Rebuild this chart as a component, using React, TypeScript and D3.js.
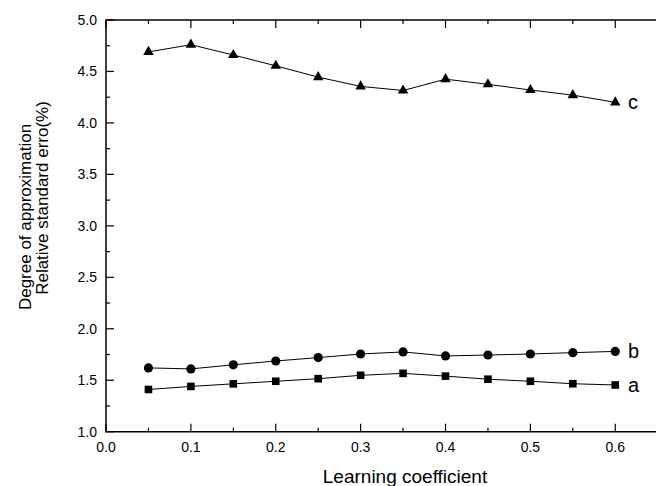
import React from "react";
import * as d3 from "d3";

const xValues = [0.05, 0.1, 0.15, 0.2, 0.25, 0.3, 0.35, 0.4, 0.45, 0.5, 0.55, 0.6];
const seriesA = [1.41, 1.44, 1.465, 1.49, 1.515, 1.548, 1.567, 1.54, 1.51, 1.49, 1.466, 1.454];
const seriesB = [1.62, 1.61, 1.65, 1.687, 1.72, 1.755, 1.775, 1.736, 1.745, 1.755, 1.768, 1.78];
const seriesC = [4.69, 4.76, 4.66, 4.555, 4.445, 4.355, 4.315, 4.425, 4.375, 4.32, 4.27, 4.2];
const xTicks = [0, 0.1, 0.2, 0.3, 0.4, 0.5, 0.6];
const yTicks = [1.0, 1.5, 2.0, 2.5, 3.0, 3.5, 4.0, 4.5, 5.0];

const W = 656;
const H = 486;
const FONT = "'Liberation Sans', Arial, sans-serif";

export default function App() {
  const x = d3.scaleLinear().domain([0, 0.65]).range([106, 657.7]);
  const y = d3.scaleLinear().domain([1, 5]).range([431.7, 20]);
  const line = d3
    .line<number>()
    .x((_, i) => x(xValues[i]))
    .y((d) => y(d));

  const xMinor = d3.range(0.05, 0.65, 0.1);
  const yMinor = d3.range(1.25, 5, 0.5);

  const tri = d3.symbol(d3.symbolTriangle, 48)();

  return (
    <svg
      width={W}
      height={H}
      style={{ position: "absolute", left: 0, top: 0, background: "#fff" }}
      fontFamily={FONT}
    >
      <rect x={0} y={0} width={W} height={H} fill="#fff" />
      <path
        d={`M${x(0.65)},${y(5)} H${x(0)} V${y(1)} H${x(0.65)}`}
        fill="none"
        stroke="#000"
        strokeWidth={1.5}
      />
      {xTicks.map((t) => (
        <g key={"xt" + t}>
          <line x1={x(t)} x2={x(t)} y1={y(1)} y2={y(1) - 8} stroke="#000" strokeWidth={1.2} />
          <line x1={x(t)} x2={x(t)} y1={y(5)} y2={y(5) + 8} stroke="#000" strokeWidth={1.2} />
          <text x={x(t)} y={452} fontSize={14} textAnchor="middle" fill="#000">
            {d3.format(".1f")(t)}
          </text>
        </g>
      ))}
      {xMinor.map((t) => (
        <g key={"xm" + t}>
          <line x1={x(t)} x2={x(t)} y1={y(1)} y2={y(1) - 4} stroke="#000" strokeWidth={1.2} />
          <line x1={x(t)} x2={x(t)} y1={y(5)} y2={y(5) + 4} stroke="#000" strokeWidth={1.2} />
        </g>
      ))}
      {yTicks.map((t) => (
        <g key={"yt" + t}>
          <line x1={x(0)} x2={x(0) + 8} y1={y(t)} y2={y(t)} stroke="#000" strokeWidth={1.2} />
          <text x={97} y={y(t)} dy="0.35em" fontSize={14} textAnchor="end" fill="#000">
            {d3.format(".1f")(t)}
          </text>
        </g>
      ))}
      {yMinor.map((t) => (
        <line key={"ym" + t} x1={x(0)} x2={x(0) + 4} y1={y(t)} y2={y(t)} stroke="#000" strokeWidth={1.2} />
      ))}
      {[seriesA, seriesB, seriesC].map((s, k) => (
        <path key={"l" + k} d={line(s) || ""} fill="none" stroke="#000" strokeWidth={1} />
      ))}
      {seriesA.map((v, i) => (
        <rect key={"a" + i} x={x(xValues[i]) - 3.8} y={y(v) - 3.8} width={7.6} height={7.6} fill="#000" />
      ))}
      {seriesB.map((v, i) => (
        <circle key={"b" + i} cx={x(xValues[i])} cy={y(v)} r={4.6} fill="#000" />
      ))}
      {seriesC.map((v, i) => (
        <path key={"c" + i} d={tri || ""} transform={`translate(${x(xValues[i])},${y(v)})`} fill="#000" />
      ))}
      <text x={628} y={y(seriesC[11]) + 7} fontSize={20} fill="#000">c</text>
      <text x={628} y={y(seriesB[11]) + 7} fontSize={20} fill="#000">b</text>
      <text x={628} y={y(seriesA[11]) + 7} fontSize={20} fill="#000">a</text>
      <text x={405} y={483} fontSize={19} textAnchor="middle" fill="#000">
        Learning coefficient
      </text>
      <text transform="translate(31,217) rotate(-90)" fontSize={17} textAnchor="middle" fill="#000">
        Degree of approximation
      </text>
      <text transform="translate(48,198) rotate(-90)" fontSize={17} textAnchor="middle" fill="#000">
        Relative standard erro(%)
      </text>
    </svg>
  );
}
